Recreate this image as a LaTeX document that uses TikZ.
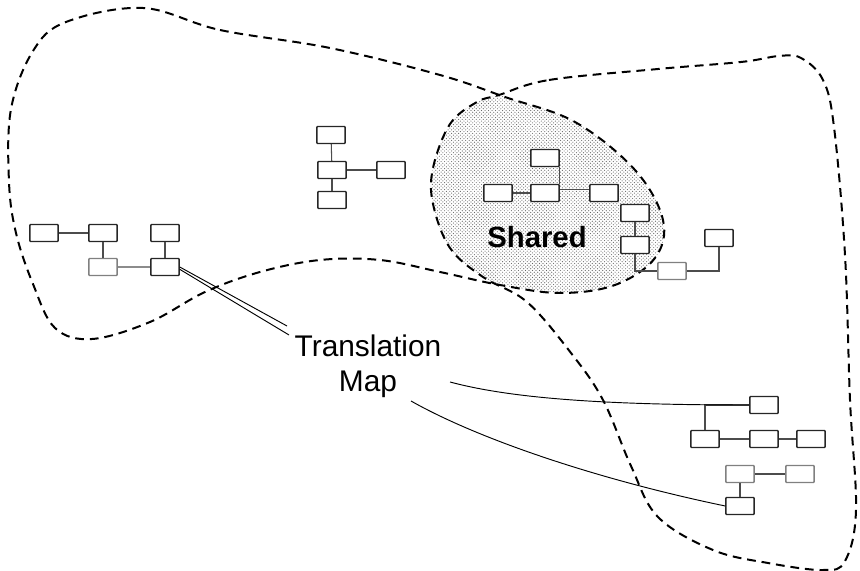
\documentclass[tikz,border=0pt]{standalone}
\usepackage{fontspec}
\setmainfont{Liberation Sans}
\usetikzlibrary{patterns}
\begin{document}
\begin{tikzpicture}[x=0.03cm,y=-0.03cm,
  blob/.style={line width=1.7pt,dash pattern=on 7.5pt off 5pt,line join=round},
  box/.style={draw=black!85,fill=white,line width=1.2pt,minimum width=24pt,minimum height=14.5pt,inner sep=0pt,rounded corners=0.5pt},
  lbox/.style={box,draw=black!50},
  link/.style={draw=black!70,line width=0.9pt},
  tmap/.style={draw=black,line width=0.8pt}]
\useasboundingbox (0,0) rectangle (860,571);
% shared region
\begin{scope}
\clip plot[smooth cycle,tension=0.6] coordinates {(143,8) (220,30) (330,48) (440,75) (505,97) (575,122) (635,170) (663,220) (655,258) (615,285) (560,293) (500,285) (440,272) (380,260) (320,260) (260,272) (205,292) (150,322) (92,339) (55,328) (33,284) (16,233) (9,182) (11,109) (33,51) (66,22)};
\fill[pattern=crosshatch dots,pattern color=black!60] plot[smooth cycle,tension=0.6] coordinates {(499,95) (549,80) (658,69) (741,62) (779,56) (801,58) (823,80) (834,127) (845,255) (850,400) (856,510) (845,561) (823,570) (768,563) (713,550) (658,517) (631,466) (603,400) (571,353) (527,302) (483,277) (450,248) (433,204) (433,168) (450,124) (477,102)};
\end{scope}
% blobs
\draw[blob] plot[smooth cycle,tension=0.6] coordinates {(143,8) (220,30) (330,48) (440,75) (505,97) (575,122) (635,170) (663,220) (655,258) (615,285) (560,293) (500,285) (440,272) (380,260) (320,260) (260,272) (205,292) (150,322) (92,339) (55,328) (33,284) (16,233) (9,182) (11,109) (33,51) (66,22)};
\draw[blob] plot[smooth cycle,tension=0.6] coordinates {(499,95) (549,80) (658,69) (741,62) (779,56) (801,58) (823,80) (834,127) (845,255) (850,400) (856,510) (845,561) (823,570) (768,563) (713,550) (658,517) (631,466) (603,400) (571,353) (527,302) (483,277) (450,248) (433,204) (433,168) (450,124) (477,102)};
% left group
\node[box] (l1) at (44,233) {};
\node[box] (l2) at (103,233) {};
\node[box] (l3) at (165,233) {};
\node[lbox] (l4) at (103,267) {};
\node[box] (l5) at (165,267) {};
% middle group
\node[box] (m1) at (331,135) {};
\node[box] (m2) at (332,170) {};
\node[box] (m3) at (391,170) {};
\node[box] (m4) at (332,200) {};
% shared group
\node[box] (s1) at (545,158) {};
\node[box] (s2) at (498,193) {};
\node[box] (s3) at (545,193) {};
\node[box] (s4) at (604,193) {};
\node[box] (s5) at (635,213) {};
\node[box] (s6) at (635,245) {};
\node[lbox] (s7) at (672,271) {};
\node[box] (s8) at (719,238) {};
% right group
\node[box] (r1) at (764,405) {};
\node[box] (r2) at (705,439) {};
\node[box] (r3) at (764,439) {};
\node[box] (r4) at (811,439) {};
\node[lbox] (r5) at (740,474) {};
\node[lbox] (r6) at (800,474) {};
\node[box] (r7) at (740,506) {};
% links
\draw[link] (l1) -- (l2);
\draw[link] (l2) -- (l4);
\draw[link,draw=black!45] (l4) -- (l5);
\draw[link] (l3) -- (l5);
\draw[link] (m1) -- (m2);
\draw[link] (m2) -- (m3);
\draw[link] (m2) -- (m4);
\draw[link] (s2) -- (s3);
\draw[link] (s1.south east) -- (s3.north east);
\draw[link] ([yshift=3pt]s3.east) -- ([yshift=3pt]s4.west);
\draw[link] (s5) -- (s6);
\draw[link] (s6.south) |- (s7.west);
\draw[link] (s7.east) -| (s8.south);
\draw[link] (r2.north) |- (r1.west);
\draw[link] (r2) -- (r3);
\draw[link] (r3) -- (r4);
\draw[link] (r5) -- (r6);
\draw[link] (r5) -- (r7);
% translation map
\coordinate (t1) at (287,326);
\coordinate (t2) at (289,335);
\coordinate (c1) at (450,382);
\coordinate (c2) at (411,401);
\draw[tmap] (l5.east) -- (t1);
\draw[tmap] ([yshift=-2pt]l5.east) -- (t2);
\draw[tmap] (c1) .. controls (510,398) and (600,405) .. (r1.west);
\draw[tmap] (c2) .. controls (480,440) and (600,480) .. (r7.west);
\node[font=\fontsize{25.5}{30}\selectfont,align=center,anchor=base] (tr) at (368,392) {Translation\\Map};
\node[font=\fontsize{25}{29}\selectfont\bfseries,anchor=base] (sh) at (537,248) {Shared};
\end{tikzpicture}
\end{document}
